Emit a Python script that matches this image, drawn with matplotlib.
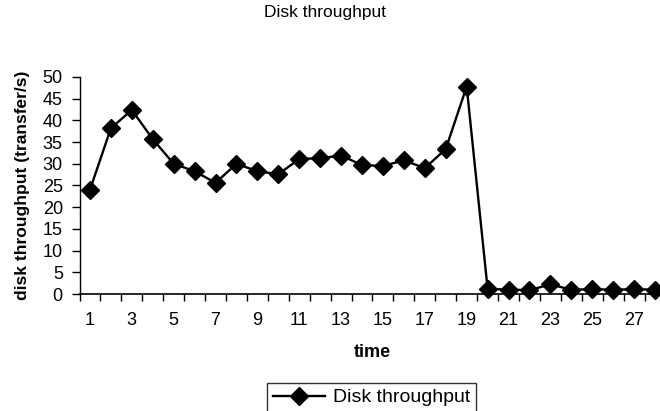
import matplotlib
matplotlib.use("Agg")
import matplotlib.pyplot as plt
from matplotlib.ticker import FixedLocator

plt.rcParams['font.family'] = ['Liberation Sans', 'DejaVu Sans']

time = list(range(1, 29))
throughput = [24.0, 38.2, 42.4, 35.7, 30.0, 28.3, 25.6, 30.0, 28.3, 27.6,
              31.1, 31.3, 31.9, 29.7, 29.5, 30.8, 29.0, 33.4, 47.8, 1.2,
              1.0, 0.9, 2.2, 1.0, 1.1, 1.0, 1.1, 1.0]
yticks = [0, 5, 10, 15, 20, 25, 30, 35, 40, 45, 50]
xticklabels = [str(t) for t in time[::2]]

fig = plt.figure(figsize=(6.6, 4.11), dpi=100)
ax = fig.add_axes([79.5/660, 1-294/411, 586/660, 217/411])
line, = ax.plot(time, throughput, color='black', lw=1.7, marker='D', markersize=9.5,
                markerfacecolor='black', markeredgecolor='black', label='Disk throughput',
                clip_on=False)
ax.set_xlim(0.5, 28.5)
ax.set_ylim(0, 50)
ax.set_yticks(yticks)
ax.set_yticklabels([str(v) for v in yticks], fontsize=13)
ax.set_xticks(time[::2])
ax.set_xticklabels(xticklabels, fontsize=13)
ax.xaxis.set_minor_locator(FixedLocator([t + 0.5 for t in range(0, 29)]))
ax.tick_params(axis='x', which='major', length=0, pad=13)
ax.tick_params(axis='x', which='minor', length=5, width=1, direction='out')
ax.tick_params(axis='y', which='major', length=6, width=1, direction='out', pad=6)
for s in ['top', 'right']:
    ax.spines[s].set_visible(False)
ax.spines['left'].set_linewidth(1)
ax.spines['bottom'].set_linewidth(1.2)
ax.set_xlabel('time', fontsize=13, fontweight='bold', labelpad=11)
ax.set_ylabel('disk throughput (transfer/s)', fontsize=12.5, fontweight='bold', labelpad=9)
fig.text(325/660, 1-13/411, 'Disk throughput', ha='center', va='center', fontsize=12.5)
leg = fig.legend(handles=[line], loc='upper center', bbox_to_anchor=(371.5/660, 1-383/411),
                 fontsize=14, frameon=True, fancybox=False, edgecolor='black',
                 handlelength=2.7, handletextpad=0.4, borderpad=0.3, borderaxespad=0)
leg.get_frame().set_linewidth(1)
fig.savefig('out.png', dpi=100)
